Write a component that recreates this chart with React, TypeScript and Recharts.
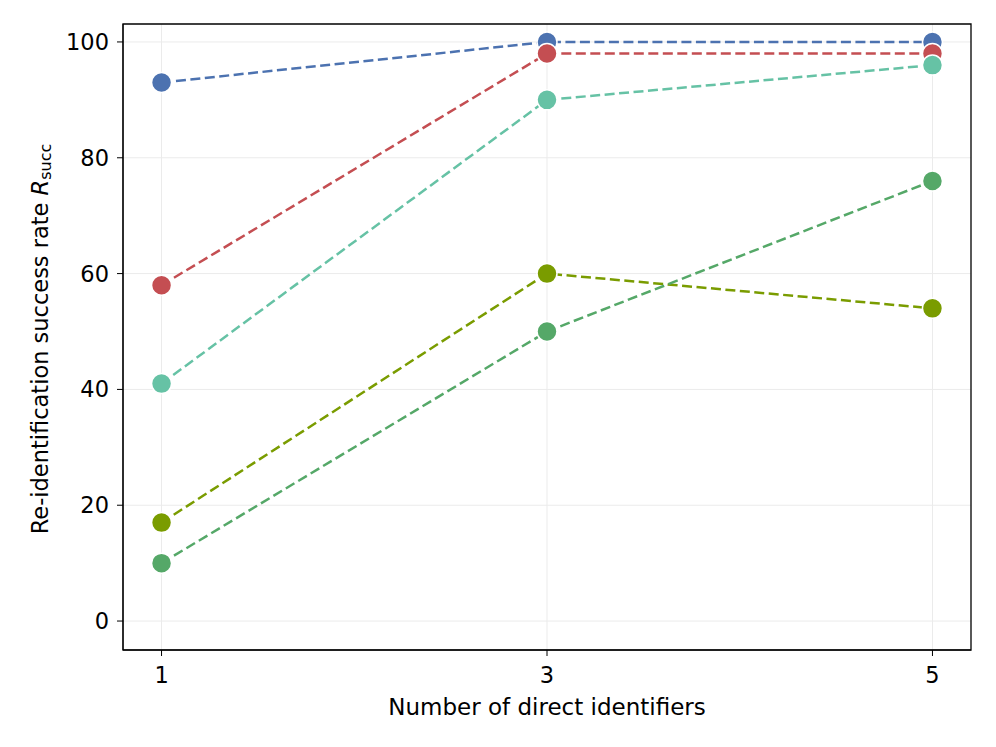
import { LineChart, Line, XAxis, YAxis, CartesianGrid, ReferenceArea } from 'recharts'

const identifiers = [1, 3, 5]
const blueVals = [93, 100, 100]
const redVals = [58, 98, 98]
const tealVals = [41, 90, 96]
const oliveVals = [17, 60, 54]
const greenVals = [10, 50, 76]
const yTicks = [0, 20, 40, 60, 80, 100]

const series = [
  { key: 'blue', vals: blueVals, color: '#4c72b0' },
  { key: 'red', vals: redVals, color: '#c44e52' },
  { key: 'teal', vals: tealVals, color: '#66c2a5' },
  { key: 'olive', vals: oliveVals, color: '#7a9c00' },
  { key: 'green', vals: greenVals, color: '#55a868' },
]

const data = identifiers.map((n, i) => {
  const row: Record<string, number> = { n }
  series.forEach(s => { row[s.key] = s.vals[i] })
  return row
})

const font = 'DejaVu Sans, sans-serif'

function YLabel({ viewBox }: any) {
  const cy = viewBox.y + viewBox.height / 2 + 2
  const x = 40
  return (
    <text
      x={x}
      y={cy}
      transform={`rotate(-90 ${x} ${cy})`}
      textAnchor="middle"
      dominantBaseline="central"
      fontFamily={font}
      fontSize={22.5}
      fill="#000"
    >
      Re-identification success rate <tspan fontStyle="italic">R</tspan>
      <tspan fontSize={16} dy={5}>succ</tspan>
    </text>
  )
}

export default function App() {
  return (
    <div style={{ position: 'absolute', left: 0, top: 0, background: '#fff' }}>
      <LineChart width={996} height={747} data={data} margin={{ top: 24, right: 25, left: 0, bottom: 0 }}>
        <CartesianGrid stroke="#ebebeb" strokeWidth={1} horizontalValues={yTicks} verticalValues={identifiers} />
        <XAxis
          dataKey="n"
          type="number"
          domain={[0.8, 5.2]}
          ticks={identifiers}
          allowDataOverflow
          height={97}
          tickSize={6}
          tickMargin={11}
          stroke="#000"
          tick={{ fontSize: 22.5, fontFamily: font, fill: '#000' }}
          label={{ value: 'Number of direct identifiers', position: 'insideTop', offset: 49, fontSize: 23, fontFamily: font, fill: '#000' }}
        />
        <YAxis
          type="number"
          domain={[-5, 103.1]}
          ticks={yTicks}
          allowDataOverflow
          width={123}
          tickSize={6}
          tickMargin={8}
          stroke="#000"
          tick={{ fontSize: 22.5, fontFamily: font, fill: '#000' }}
          label={<YLabel />}
        />
        <ReferenceArea x1={0.8} x2={5.2} y1={-5} y2={103.1} fill="none" stroke="#000" strokeWidth={1.3} ifOverflow="visible" />
        {series.map(s => (
          <Line
            key={s.key}
            dataKey={s.key}
            stroke={s.color}
            strokeWidth={2.5}
            strokeDasharray="10 4.5"
            dot={{ r: 10, fill: s.color, stroke: '#fff', strokeWidth: 1.5, strokeDasharray: '' }}
            activeDot={false}
            isAnimationActive={false}
          />
        ))}
      </LineChart>
    </div>
  )
}
